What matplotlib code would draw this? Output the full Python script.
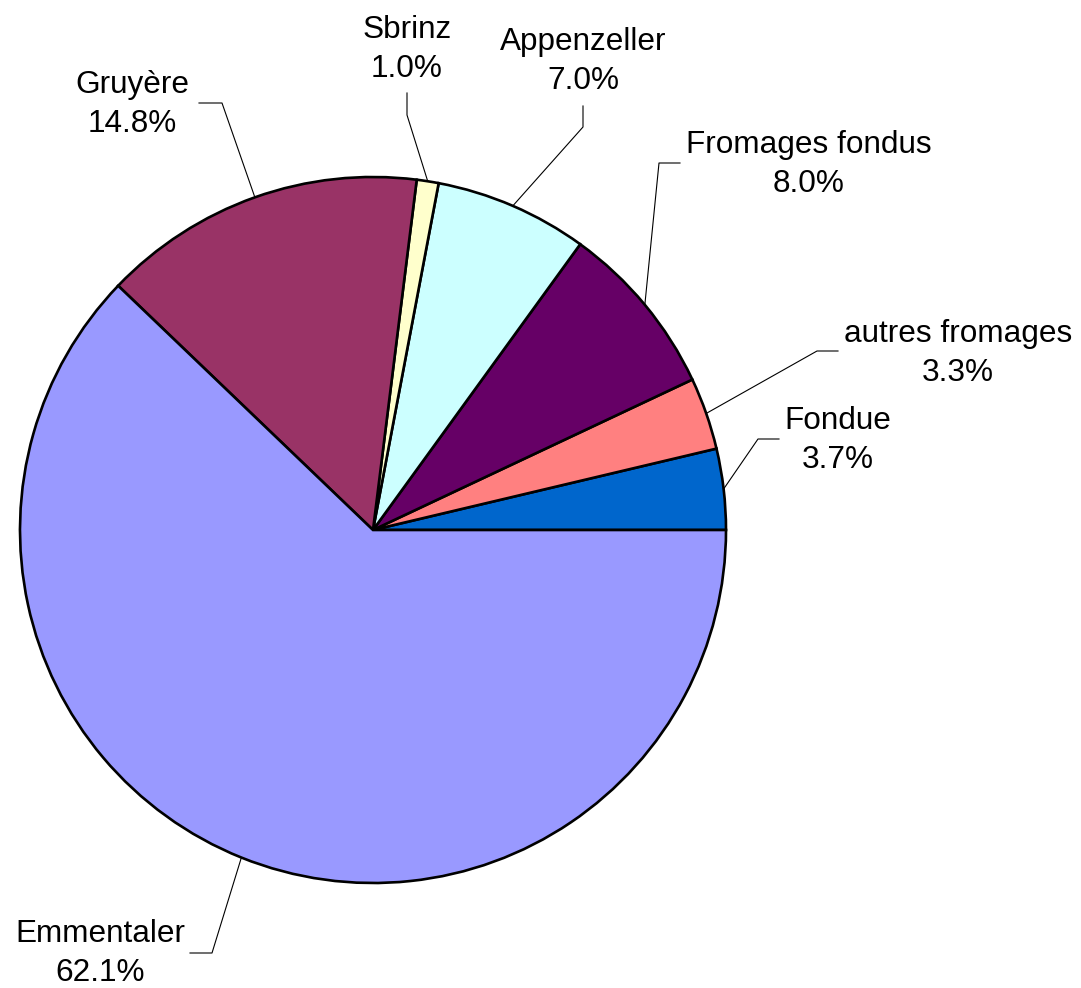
#!/usr/bin/env python3
# -*- coding: utf-8 -*-
import numpy as np
import matplotlib
matplotlib.use('Agg')
import matplotlib.pyplot as plt

# data
labels = ['Fondue', 'autres fromages', 'Fromages fondus', 'Appenzeller',
          'Sbrinz', 'Gruyère', 'Emmentaler']
shares = [3.7, 3.3, 8.0, 7.0, 1.0, 14.8, 62.1]
colors = ['#0066CC', '#FF8080', '#660066', '#CCFFFF',
          '#FFFFCC', '#993366', '#9999FF']

# layout (pixel coords, origin top-left)
W, H = 1081, 988
center = (373, 530)
radius = 353
# text centre x, baseline of first line
text_pos = [(838, 429), (958, 342), (809, 153), (583, 50),
            (407, 38), (132, 93), (100, 942)]
# leader line: end near text, elbow
leader_end = [(779, 439), (838, 351), (680, 163), (583, 106),
              (407, 93), (199, 103), (190, 953)]
leader_elbow = [(758, 439), (817, 351), (659, 163), (583, 127),
                (407, 115), (222, 103), (212, 953)]
line_gap = 39

plt.rcParams['font.family'] = ['Liberation Sans', 'DejaVu Sans']

fig = plt.figure(figsize=(W / 100, H / 100), dpi=100)
ax = fig.add_axes([0, 0, 1, 1])

def fy(y):
    return H - y

wedges, _ = ax.pie(shares, colors=colors, startangle=0, counterclock=True,
                   center=(center[0], fy(center[1])), radius=radius,
                   wedgeprops=dict(edgecolor='black', linewidth=1.9),
                   frame=True)
ax.set_xlim(0, W)
ax.set_ylim(0, H)
ax.axis('off')

for i, w in enumerate(wedges):
    mid = np.deg2rad((w.theta1 + w.theta2) / 2)
    px = center[0] + radius * np.cos(mid)
    py = fy(center[1]) + radius * np.sin(mid)
    ex, ey = leader_end[i]
    bx, by = leader_elbow[i]
    ax.plot([ex, bx, px], [fy(ey), fy(by), py], color='black', lw=0.8)
    tx, ty = text_pos[i]
    ax.text(tx, fy(ty), labels[i], ha='center', va='baseline', fontsize=22.7)
    ax.text(tx, fy(ty + line_gap), '%.1f%%' % shares[i], ha='center',
            va='baseline', fontsize=22.7)

fig.savefig('out.png', dpi=100, facecolor='white')
